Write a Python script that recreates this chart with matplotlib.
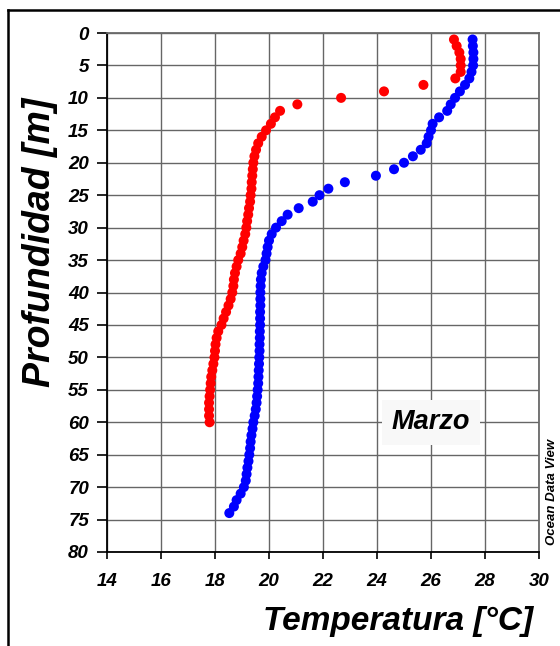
import matplotlib
matplotlib.use("Agg")
import matplotlib.pyplot as plt
from matplotlib.lines import Line2D

plt.rcParams['font.family'] = ['Liberation Sans', 'DejaVu Sans']

# ---- data ----
red_depth = [1, 2, 3, 4, 5, 6, 7, 8, 9, 10, 11, 12, 13, 14, 15, 16, 17, 18, 19, 20,
             21, 22, 23, 24, 25, 26, 27, 28, 29, 30, 31, 32, 33, 34, 35, 36, 37, 38, 39, 40,
             41, 42, 43, 44, 45, 46, 47, 48, 49, 50, 51, 52, 53, 54, 55, 56, 57, 58, 59, 60]
red_temp = [26.85, 26.95, 27.05, 27.1, 27.1, 27.1, 26.9, 25.72, 24.26, 22.67,
            21.05, 20.41, 20.22, 20.07, 19.89, 19.73, 19.60, 19.52, 19.46, 19.42,
            19.40, 19.38, 19.36, 19.35, 19.32, 19.30, 19.26, 19.23, 19.19, 19.16,
            19.12, 19.06, 19.01, 18.95, 18.86, 18.80, 18.74, 18.70, 18.68, 18.64,
            18.58, 18.50, 18.41, 18.32, 18.24, 18.12, 18.06, 18.02, 18.00, 17.98,
            17.94, 17.90, 17.86, 17.84, 17.82, 17.80, 17.78, 17.78, 17.78, 17.80]

blue_depth = [1, 2, 3, 4, 5, 6, 7, 8, 9, 10, 11, 12, 13, 14, 15, 16, 17, 18, 19, 20,
              21, 22, 23, 24, 25, 26, 27, 28, 29, 30, 31, 32, 33, 34, 35, 36, 37, 38, 39, 40,
              41, 42, 43, 44, 45, 46, 47, 48, 49, 50, 51, 52, 53, 54, 55, 56, 57, 58, 59, 60,
              61, 62, 63, 64, 65, 66, 67, 68, 69, 70, 71, 72, 73, 74]
blue_temp = [27.54, 27.55, 27.57, 27.57, 27.56, 27.50, 27.42, 27.26, 27.07, 26.89,
             26.73, 26.60, 26.30, 26.06, 26.00, 25.91, 25.84, 25.62, 25.33, 25.00,
             24.63, 23.96, 22.81, 22.20, 21.87, 21.62, 21.10, 20.69, 20.47, 20.26,
             20.10, 20.00, 19.95, 19.91, 19.87, 19.79, 19.73, 19.70, 19.69, 19.68,
             19.68, 19.68, 19.67, 19.67, 19.67, 19.66, 19.66, 19.65, 19.65, 19.64,
             19.63, 19.62, 19.61, 19.60, 19.58, 19.56, 19.54, 19.51, 19.47, 19.42,
             19.39, 19.35, 19.32, 19.30, 19.27, 19.24, 19.20, 19.17, 19.14, 19.07,
             18.95, 18.80, 18.70, 18.53]

x_ticks = [14, 16, 18, 20, 22, 24, 26, 28, 30]
y_ticks = [0, 5, 10, 15, 20, 25, 30, 35, 40, 45, 50, 55, 60, 65, 70, 75, 80]

xlabel = "Temperatura [°C]"
ylabel = "Profundidad [m]"
month_label = "Marzo"
credit = "Ocean Data View"

# ---- figure ----
W, H = 560, 646
fig = plt.figure(figsize=(W / 100, H / 100), dpi=100)
fig.patch.set_facecolor('white')

def fx(px):
    return px / W

def fy(py):
    return 1 - py / H

ax = fig.add_axes([fx(107), fy(552), fx(539) - fx(107), fy(33) - fy(552)])
ax.set_xlim(14, 30)
ax.set_ylim(80, 0)
ax.set_xticks(x_ticks)
ax.set_yticks(y_ticks)

fp = dict(fontweight='bold', fontstyle='italic')
ax.set_xticklabels([str(v) for v in x_ticks], fontsize=13.5, **fp)
ax.set_yticklabels([str(v) for v in y_ticks], fontsize=13.5, **fp)
ax.tick_params(axis='x', direction='out', length=5, width=1.2, pad=10, color='black')
ax.tick_params(axis='y', direction='out', length=7, width=1.2, pad=6, color='black')

ax.grid(True, color='#666666', linewidth=1.0)
ax.set_axisbelow(True)

for s in ['left', 'bottom']:
    ax.spines[s].set_color('black')
    ax.spines[s].set_linewidth(1.3)
for s in ['top', 'right']:
    ax.spines[s].set_color('#6a6a6a')
    ax.spines[s].set_linewidth(1.3)

ax.scatter(red_temp, red_depth, s=52, color='#ff0000', edgecolors='none', zorder=3)
ax.scatter(blue_temp, blue_depth, s=52, color='#0000ff', edgecolors='none', zorder=4)

ax.text(26.0, 60.0, month_label, fontsize=19.5, ha='center', va='center', zorder=5,
        bbox=dict(boxstyle='square,pad=0.36', facecolor='#f8f8f8', edgecolor='none'), **fp)

fig.text(fx(533), fy(630), xlabel, fontsize=24, ha='right', va='baseline', **fp)
fig.text(fx(40), fy(242), ylabel, fontsize=27, ha='center', va='center', rotation=90, **fp)
fig.text(fx(552), fy(492), credit, fontsize=9.5, ha='center', va='center', rotation=90, **fp)

# outer frame lines (top and left visible)
fig.add_artist(Line2D([fx(8), 1.0], [fy(10), fy(10)], color='black', linewidth=1.8,
                      transform=fig.transFigure))
fig.add_artist(Line2D([fx(8), fx(8)], [fy(10), 0.0], color='black', linewidth=1.8,
                      transform=fig.transFigure))

fig.savefig('out.png', dpi=100)
